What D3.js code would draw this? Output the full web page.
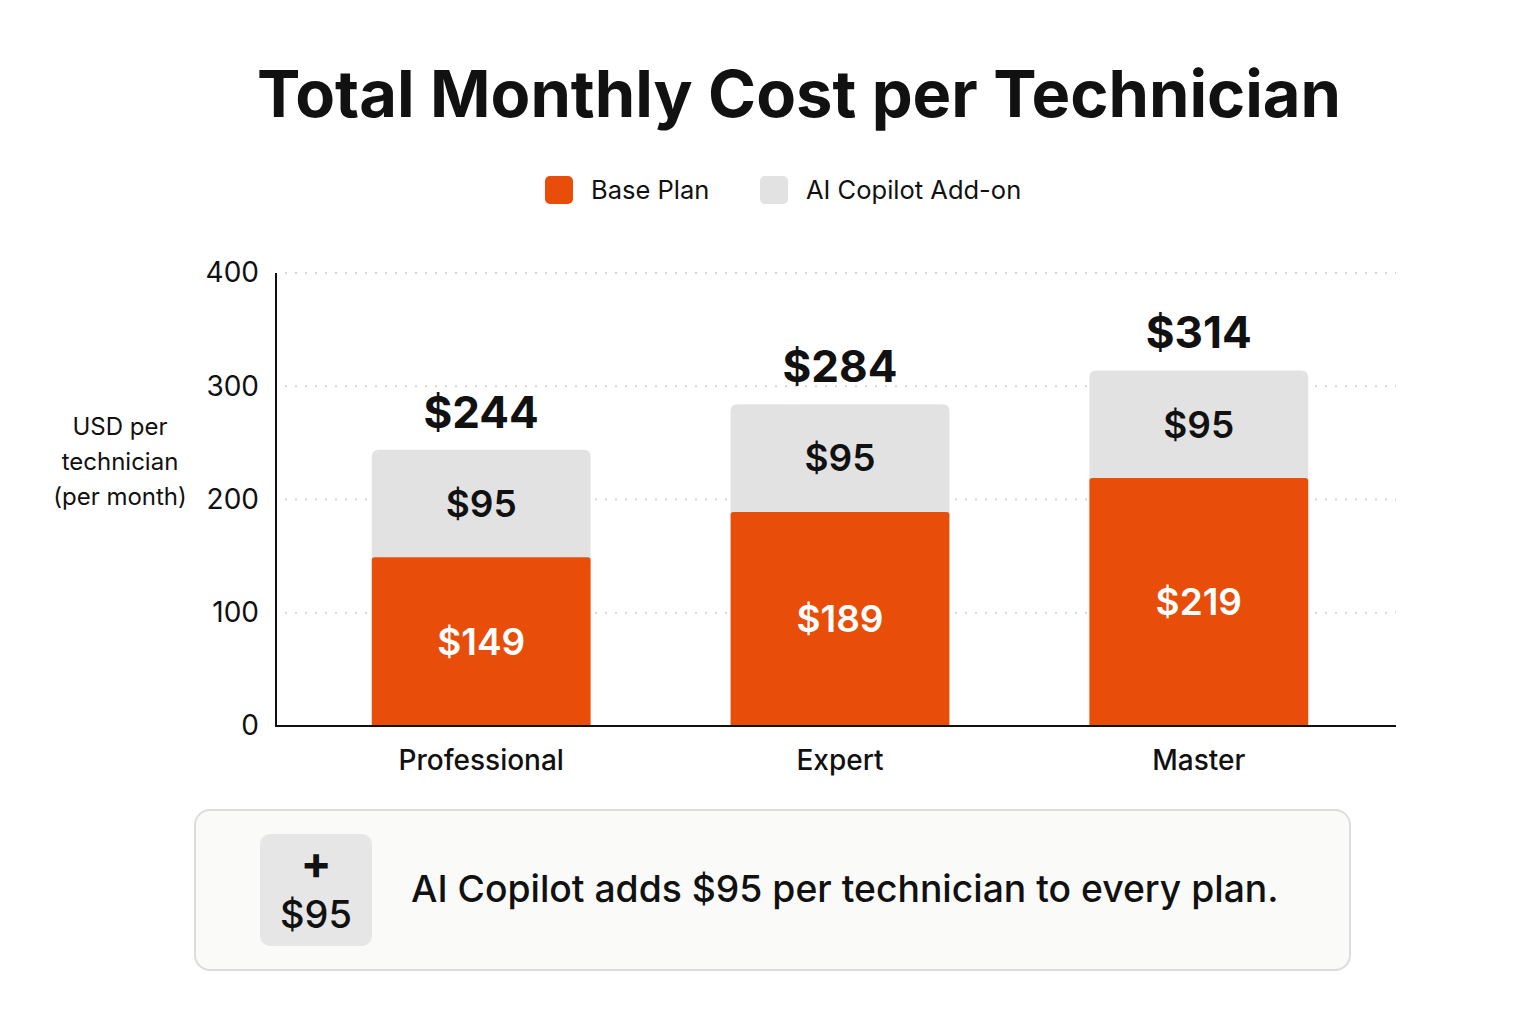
<!DOCTYPE html>
<html>
<head>
<meta charset="utf-8">
<script src="https://cdn.jsdelivr.net/npm/d3@7"></script>
<style>
  body { margin: 0; background: #fff; }
  svg { display: block; font-family: Inter, "Noto Sans", sans-serif; }
</style>
</head>
<body>
<svg width="1536" height="1024"></svg>
<script>
// chart data
const plans = ['Professional', 'Expert', 'Master'];
const basePrices = [149, 189, 219];
const addonPrices = [95, 95, 95];
const yTicks = [0, 100, 200, 300, 400];

const ORANGE = '#E84E0A';
const GREY = '#E2E2E2';

// top-rounded rect path
function topRounded(x, y, w, h, r) {
  r = Math.min(r, h / 2, w / 2);
  return `M${x},${y + h}V${y + r}Q${x},${y} ${x + r},${y}H${x + w - r}Q${x + w},${y} ${x + w},${y + r}V${y + h}Z`;
}

function main() {
  const svg = d3.select('svg');

  const x = d3.scaleBand().domain(plans).range([300, 1380])
              .paddingInner(0.39).paddingOuter(0.2);
  const y = d3.scaleLinear().domain([0, 400]).range([726, 273]);

  const rows = plans.map((p, i) => ({plan: p, base: basePrices[i], addon: addonPrices[i],
                                     total: basePrices[i] + addonPrices[i]}));

  // title
  svg.append('text').attr('x', 799).attr('y', 117).attr('text-anchor', 'middle')
     .attr('font-size', 65).attr('font-weight', 700).attr('fill', '#111')
     .text('Total Monthly Cost per Technician');

  // legend
  const legend = [{label: 'Base Plan', color: ORANGE, x: 545},
                  {label: 'AI Copilot Add-on', color: GREY, x: 760}];
  const lg = svg.selectAll('g.legend').data(legend).enter().append('g')
                .attr('class', 'legend').attr('transform', d => `translate(${d.x},176)`);
  lg.append('rect').attr('width', 28).attr('height', 28).attr('rx', 5).attr('fill', d => d.color);
  lg.append('text').attr('x', 46).attr('y', 14).attr('dy', '0.36em')
    .attr('font-size', 25.5).attr('fill', '#111').text(d => d.label);

  // gridlines
  svg.append('g').selectAll('line').data(yTicks.filter(t => t > 0)).enter().append('line')
     .attr('x1', 285).attr('x2', 1396).attr('y1', d => y(d)).attr('y2', d => y(d))
     .attr('stroke', '#d6d6d6').attr('stroke-width', 2).attr('stroke-dasharray', '2,8');

  // y axis
  const yAxis = svg.append('g').attr('transform', 'translate(276,0)')
     .call(d3.axisLeft(y).tickValues(yTicks).tickSize(0).tickPadding(17));
  yAxis.select('.domain').remove();
  yAxis.selectAll('text').attr('font-size', 28).attr('fill', '#111')
       .style('font-family', 'Inter, "Noto Sans", sans-serif');
  svg.append('line').attr('x1', 276).attr('x2', 276).attr('y1', 273).attr('y2', 727)
     .attr('stroke', '#111').attr('stroke-width', 2);

  // y title
  svg.append('text').attr('x', 120).attr('y', 427).attr('text-anchor', 'middle')
     .attr('font-size', 24).attr('fill', '#111')
     .selectAll('tspan').data(['USD per', 'technician', '(per month)']).enter().append('tspan')
     .attr('x', 120).attr('dy', (d, i) => i === 0 ? '0.35em' : 35).text(d => d);

  // bars
  const bars = svg.append('g').selectAll('g').data(rows).enter().append('g');
  bars.append('path').attr('fill', GREY)
      .attr('d', d => topRounded(x(d.plan), y(d.total), x.bandwidth(), y(d.base) - y(d.total) + 4, 7));
  bars.append('path').attr('fill', ORANGE)
      .attr('d', d => topRounded(x(d.plan), y(d.base), x.bandwidth(), y(0) - y(d.base), 3));

  // segment labels
  bars.append('text').attr('x', d => x(d.plan) + x.bandwidth() / 2)
      .attr('y', d => (y(d.base) + y(0)) / 2).attr('dy', '0.36em')
      .attr('text-anchor', 'middle').attr('font-size', 37).attr('font-weight', 600)
      .attr('fill', '#fff').text(d => '$' + d.base);
  bars.append('text').attr('x', d => x(d.plan) + x.bandwidth() / 2)
      .attr('y', d => (y(d.total) + y(d.base)) / 2).attr('dy', '0.36em')
      .attr('text-anchor', 'middle').attr('font-size', 37).attr('font-weight', 600)
      .attr('fill', '#111').text(d => '$' + d.addon);
  bars.append('text').attr('x', d => x(d.plan) + x.bandwidth() / 2)
      .attr('y', d => y(d.total) - 38).attr('dy', '0.36em')
      .attr('text-anchor', 'middle').attr('font-size', 44).attr('font-weight', 700)
      .attr('fill', '#111').text(d => '$' + d.total);

  // x axis
  svg.append('line').attr('x1', 275).attr('x2', 1396).attr('y1', 726).attr('y2', 726)
     .attr('stroke', '#111').attr('stroke-width', 2);
  svg.append('g').selectAll('text').data(plans).enter().append('text')
     .attr('x', d => x(d) + x.bandwidth() / 2).attr('y', 760).attr('dy', '0.36em')
     .attr('text-anchor', 'middle').attr('font-size', 28).attr('font-weight', 500)
     .attr('fill', '#111').text(d => d);

  // callout
  const note = svg.append('g');
  note.append('rect').attr('x', 195).attr('y', 810).attr('width', 1155).attr('height', 160)
      .attr('rx', 15).attr('fill', '#FAFAF8').attr('stroke', '#DCDCDC').attr('stroke-width', 2);
  note.append('rect').attr('x', 260).attr('y', 834).attr('width', 112).attr('height', 112)
      .attr('rx', 10).attr('fill', '#E6E6E6');
  note.append('text').attr('x', 316).attr('y', 862).attr('dy', '0.36em').attr('text-anchor', 'middle')
      .attr('font-size', 46).attr('font-weight', 700).attr('fill', '#111').text('+');
  note.append('text').attr('x', 316).attr('y', 914).attr('dy', '0.36em').attr('text-anchor', 'middle')
      .attr('font-size', 38).attr('font-weight', 500).attr('fill', '#111').text('$' + addonPrices[0]);
  note.append('text').attr('x', 411).attr('y', 889).attr('dy', '0.36em')
      .attr('font-size', 37.3).attr('font-weight', 500).attr('fill', '#111')
      .text(`AI Copilot adds $${addonPrices[0]} per technician to every plan.`);
}

main();
</script>
</body>
</html>
